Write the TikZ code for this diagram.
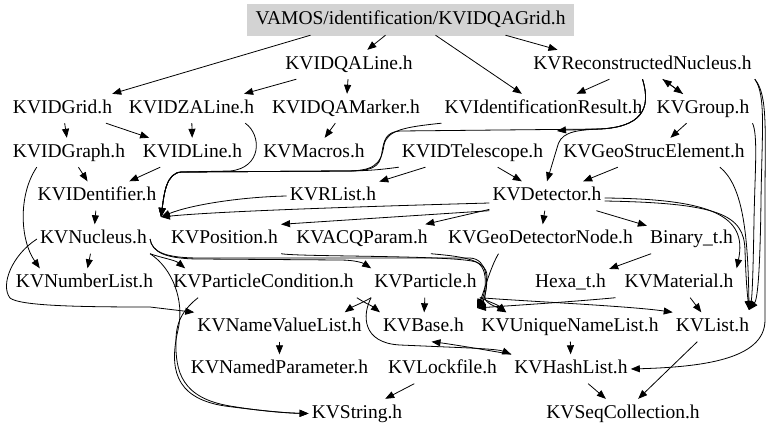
\documentclass[tikz,border=0pt]{standalone}
\usepackage{fontspec}
\setmainfont{Liberation Serif}
\usetikzlibrary{arrows.meta}
\definecolor{RootGrey}{HTML}{D3D3D3}
\tikzset{
    % Node styles - plain header files, no frame
    filebox/.style={
        rectangle,
        inner xsep=3pt,
        inner ysep=0pt,
        minimum height=29pt,
        text height=13pt,
        text depth=4pt,
        font=\fontsize{19.5}{22}\selectfont
    },
    rootbox/.style={
        filebox,
        draw=RootGrey,
        fill=RootGrey,
        inner xsep=8pt,
        minimum height=31pt
    },
    % Arrow styles
    incarrow/.style={
        -{Triangle[length=9pt,width=7pt]},
        line width=0.8pt,
        black
    }
}
\begin{document}
\begin{tikzpicture}[x=1pt, y=-1pt]
            \useasboundingbox (0,0) rectangle (768,434);

            % Row 1 - the file itself
            \node[rootbox] (root) at (410.5,19.5) {VAMOS/identification/KVIDQAGrid.h};

            % Row 2
            \node[filebox] (qaline) at (349,64.5) {KVIDQALine.h};
            \node[filebox] (recnuc) at (642.5,64.5) {KVReconstructedNucleus.h};

            % Row 3
            \node[filebox] (grid) at (62.5,108.5) {KVIDGrid.h};
            \node[filebox] (zaline) at (191.5,108.5) {KVIDZALine.h};
            \node[filebox] (qamarker) at (346,108.5) {KVIDQAMarker.h};
            \node[filebox] (idres) at (543.5,108.5) {KVIdentificationResult.h};
            \node[filebox] (group) at (703,108.5) {KVGroup.h};

            % Row 4
            \node[filebox] (graph) at (69,152.5) {KVIDGraph.h};
            \node[filebox] (idline) at (192.5,152.5) {KVIDLine.h};
            \node[filebox] (macros) at (314,152.5) {KVMacros.h};
            \node[filebox] (idtel) at (472.5,152.5) {KVIDTelescope.h};
            \node[filebox] (geostruc) at (654,152.5) {KVGeoStrucElement.h};

            % Row 5
            \node[filebox] (identifier) at (97,196) {KVIDentifier.h};
            \node[filebox] (rlist) at (333,196) {KVRList.h};
            \node[filebox] (detector) at (547,196) {KVDetector.h};

            % Row 6
            \node[filebox] (nucleus) at (93.5,239) {KVNucleus.h};
            \node[filebox] (position) at (224.5,239) {KVPosition.h};
            \node[filebox] (acqparam) at (362,239) {KVACQParam.h};
            \node[filebox] (geodet) at (540.5,239) {KVGeoDetectorNode.h};
            \node[filebox] (binary) at (691.5,239) {Binary\_t.h};

            % Row 7
            \node[filebox] (numlist) at (84.5,283) {KVNumberList.h};
            \node[filebox] (partcond) at (263.5,283) {KVParticleCondition.h};
            \node[filebox] (particle) at (425.5,283) {KVParticle.h};
            \node[filebox] (hexa) at (570.5,283) {Hexa\_t.h};
            \node[filebox] (material) at (679,283) {KVMaterial.h};

            % Row 8
            \node[filebox] (namevl) at (279.5,327) {KVNameValueList.h};
            \node[filebox] (base) at (423.5,327) {KVBase.h};
            \node[filebox] (uniqnl) at (570,327) {KVUniqueNameList.h};
            \node[filebox] (list) at (712.5,327) {KVList.h};

            % Row 9
            \node[filebox] (namedpar) at (279.5,369) {KVNamedParameter.h};
            \node[filebox] (lockfile) at (442.5,369) {KVLockfile.h};
            \node[filebox] (hashlist) at (571,369) {KVHashList.h};

            % Row 10
            \node[filebox] (string) at (357,413.5) {KVString.h};
            \node[filebox] (seqcoll) at (623,413.5) {KVSeqCollection.h};

            % Entry points shared by bundled edges
            \coordinate (nucin) at (161,217);
            \coordinate (listin) at (749,310);
            \coordinate (basein) at (477,308);
            \coordinate (idresin) at (557,131);

            % From the file itself
            \draw[incarrow] ([xshift=-100pt]root.south) -- (grid);
            \draw[incarrow] ([xshift=-25pt]root.south) -- (qaline);
            \draw[incarrow] ([xshift=25pt]root.south) -- (idres);
            \draw[incarrow] ([xshift=95pt]root.south) -- ([xshift=-85pt]recnuc.north);

            % KVIDQALine.h
            \draw[incarrow] (qaline) -- (zaline);
            \draw[incarrow] (qaline) -- (qamarker);

            % KVReconstructedNucleus.h
            \draw[incarrow] (recnuc) -- (idres);
            \draw[incarrow] (recnuc) -- (group);
            \draw[incarrow] (group) -- (recnuc);
            \draw[incarrow] (recnuc.south) .. controls (652,110) and (640,127) .. (600,129) .. controls (580,130) and (565,130) .. (idresin);
            \draw[incarrow] (recnuc.south) .. controls (652,110) and (640,127) .. (600,129) .. controls (570,130) and (560,134) .. (557,148) -- (detector.north);
            \draw[incarrow] (recnuc.south) .. controls (652,110) and (640,127) .. (600,129) -- (400,131) .. controls (386,132) and (384,140) .. (382,152) .. controls (380,168) and (372,171) .. (345,171) -- (182,172) .. controls (166,172) and (164,195) .. (nucin);
            \draw[incarrow] (recnuc.south east) .. controls (766,95) and (762,130) .. (761,200) .. controls (760,280) and (757,300) .. (listin);
            \draw[incarrow] (recnuc.south east) .. controls (768,95) and (765,130) .. (765,200) -- (765,320) .. controls (765,360) and (700,367) .. (hashlist.east);

            % KVIDGrid.h, KVIDZALine.h, KVIDQAMarker.h
            \draw[incarrow] (grid) -- (graph);
            \draw[incarrow] (grid) -- (idline);
            \draw[incarrow] (zaline) -- (idline);
            \draw[incarrow] ([xshift=-12pt]zaline.south east) .. controls (262,135) and (262,168) .. (230,171) -- (182,172) .. controls (166,172) and (164,195) .. (nucin);
            \draw[incarrow] (qamarker) -- (macros);

            % KVIdentificationResult.h
            \draw[incarrow] (idres.south west) .. controls (405,127) and (387,130) .. (384,145) .. controls (381,166) and (372,171) .. (345,171) -- (182,172) .. controls (166,172) and (164,195) .. (nucin);

            % KVGroup.h
            \draw[incarrow] (group) -- (geostruc);
            \draw[incarrow] (group.south east) .. controls (758,135) and (755,170) .. (754,220) .. controls (753,280) and (752,298) .. (listin);

            % KVIDGraph.h, KVIDLine.h
            \draw[incarrow] (graph) -- (identifier);
            \draw[incarrow] ([xshift=27pt]graph.south west) .. controls (18,195) and (20,240) .. ([xshift=27pt]numlist.north west);
            \draw[incarrow] (idline) -- (identifier);

            % KVIDTelescope.h
            \draw[incarrow] (idtel) -- (rlist);
            \draw[incarrow] (idtel) -- (detector);
            \draw[incarrow] (idtel.south west) .. controls (385,169) and (370,171) .. (345,171) -- (182,172) .. controls (166,172) and (164,195) .. (nucin);

            % KVGeoStrucElement.h
            \draw[incarrow] (geostruc) -- (detector);
            \draw[incarrow] ([xshift=-28pt]geostruc.south east) .. controls (742,185) and (748,230) .. (listin);

            % KVIDentifier.h, KVRList.h
            \draw[incarrow] (identifier) -- (nucleus);
            \draw[incarrow] (rlist.west) .. controls (240,197) and (190,205) .. (nucin);

            % KVDetector.h
            \draw[incarrow] ([yshift=-7pt]detector.west) .. controls (380,206) and (220,211) .. (nucin);
            \draw[incarrow] (detector.south west) -- (position.north east);
            \draw[incarrow] (detector) -- (acqparam);
            \draw[incarrow] (detector) -- (geodet);
            \draw[incarrow] (detector) -- (binary);
            \draw[incarrow] ([yshift=-2pt]detector.east) .. controls (710,199) and (748,215) .. (material.north east);
            \draw[incarrow] ([yshift=-5pt]detector.east) .. controls (720,203) and (744,215) .. (745,250) .. controls (746,285) and (748,300) .. (listin);

            % KVNucleus.h
            \draw[incarrow] (nucleus) -- (numlist);
            \draw[incarrow] (nucleus.south east) .. controls (162,258) and (175,260) .. ([xshift=15pt]partcond.north west);
            \draw[incarrow] (nucleus.east) .. controls (152,252) and (165,259) .. (200,259) -- (340,260) .. controls (355,260) and (363,263) .. (particle.north west);
            \draw[incarrow] (nucleus.east) .. controls (152,252) and (165,258) .. (200,258) -- (470,258) .. controls (488,259) and (488,282) .. (485,295) .. controls (483,303) and (495,306) .. ([xshift=28pt]uniqnl.north west);
            \draw[incarrow] (nucleus.west) .. controls (12,255) and (0,285) .. (10,298) .. controls (20,306) and (80,307) .. (150,307) -- (namevl.north west);
            \draw[incarrow] (nucleus.south east) .. controls (172,268) and (185,300) .. (178,330) .. controls (170,365) and (172,398) .. (225,406) .. controls (255,410) and (285,413) .. (string.west);

            % KVPosition.h, KVACQParam.h, KVGeoDetectorNode.h
            \draw[incarrow] (position.south east) .. controls (300,257) and (455,255) .. (476,262) .. controls (490,268) and (485,295) .. (basein);
            \draw[incarrow] (acqparam.south east) .. controls (455,256) and (487,258) .. (487,276) .. controls (487,295) and (482,303) .. (basein);
            \draw[incarrow] ([xshift=-42pt]geodet.south) .. controls (490,268) and (484,292) .. (basein);

            % Binary_t.h, Hexa_t.h, KVMaterial.h
            \draw[incarrow] (binary) -- (hexa);
            \draw[incarrow] ([xshift=45pt]hexa.south) .. controls (570,302) and (505,306) .. (basein);
            \draw[incarrow] (material) -- (list);

            % KVParticle.h
            \draw[incarrow] (particle) -- (base);
            \draw[incarrow] (particle.south east) .. controls (490,302) and (498,305) .. ([xshift=28pt]uniqnl.north west);
            \draw[incarrow] (particle.south east) .. controls (520,301) and (630,306) .. (list.north west);
            \draw[incarrow] (particle.south west) .. controls (362,303) and (352,307) .. ([xshift=-20pt]namevl.north east);
            \draw[incarrow] (particle.south west) .. controls (362,315) and (362,343) .. (400,345) -- (470,348) .. controls (490,349) and (500,350) .. (hashlist.north west);

            % KVParticleCondition.h
            \draw[incarrow] (partcond.south east) .. controls (365,303) and (372,306) .. (base.north west);
            \draw[incarrow] ([xshift=28pt]partcond.south west) .. controls (185,308) and (176,320) .. (176,340) .. controls (175,372) and (182,398) .. (230,406) .. controls (260,411) and (285,413) .. (string.west);

            % Lower rows
            \draw[incarrow] (namevl) -- (namedpar);
            \draw[incarrow] (hashlist.north west) .. controls (480,349) and (450,344) .. ([xshift=8pt]base.south);
            \draw[incarrow] (uniqnl) -- (hashlist);
            \draw[incarrow] (hashlist) -- (seqcoll);
            \draw[incarrow] (list) -- (seqcoll);
            \draw[incarrow] (lockfile) -- (string);
        \end{tikzpicture}
\end{document}
